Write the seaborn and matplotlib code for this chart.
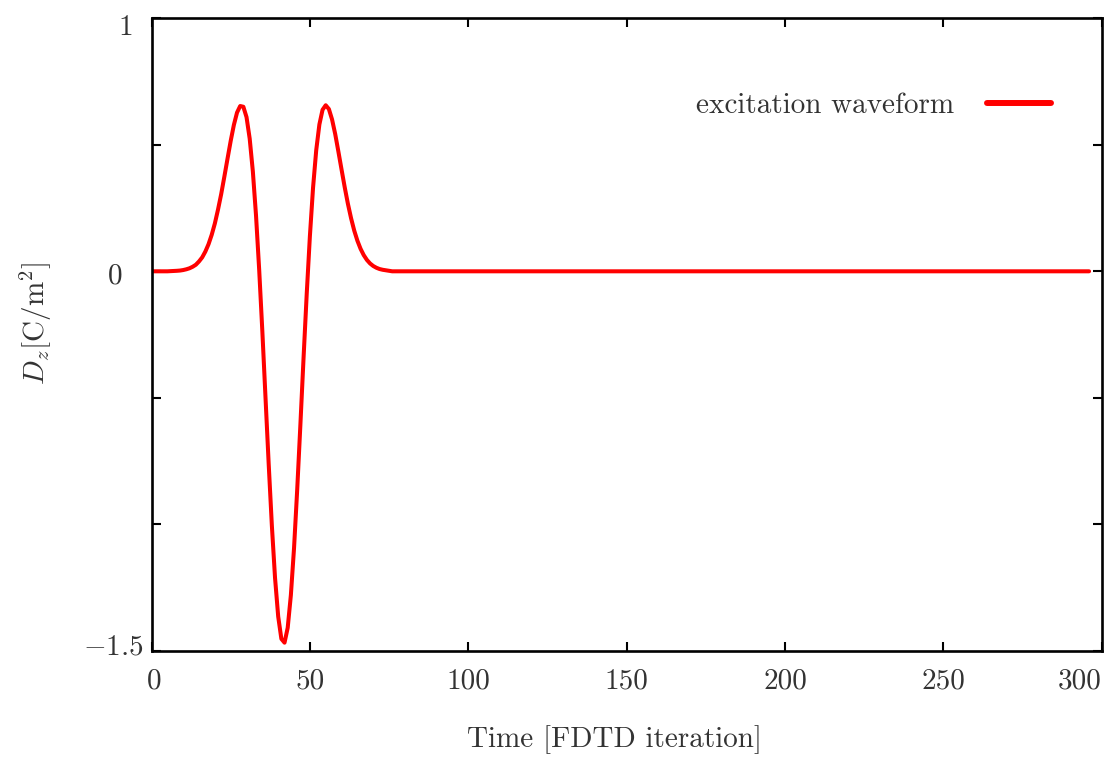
import matplotlib
matplotlib.use("Agg")
import matplotlib.pyplot as plt
import matplotlib.transforms as mtransforms
import seaborn as sns
import pandas as pd
from matplotlib.lines import Line2D

# Data (FDTD iteration vs D_z)
time = [0, 5, 8, 9, 10, 11, 12, 13, 14, 15, 16, 17, 18, 19, 20, 21, 22, 23, 24, 25,
        26, 27, 28, 29, 30, 31, 32, 33, 34, 35, 36, 37, 38, 39, 40, 41, 42, 43, 44, 45,
        46, 47, 48, 49, 50, 51, 52, 53, 54, 55, 56, 57, 58, 59, 60, 61, 62, 63, 64, 65,
        66, 67, 68, 69, 70, 71, 72, 73, 74, 75, 76, 80, 296]
dz = [0.0, 0.0, 0.002, 0.003, 0.005, 0.008, 0.012, 0.018, 0.026, 0.039, 0.055, 0.078,
      0.107, 0.144, 0.189, 0.244, 0.305, 0.374, 0.445, 0.515, 0.578, 0.627, 0.653, 0.650,
      0.609, 0.524, 0.394, 0.220, 0.005, -0.239, -0.501, -0.762, -1.005, -1.211, -1.364,
      -1.452, -1.467, -1.408, -1.279, -1.093, -0.862, -0.607, -0.343, -0.090, 0.138, 0.330,
      0.478, 0.580, 0.638, 0.656, 0.641, 0.600, 0.542, 0.473, 0.402, 0.332, 0.267, 0.210,
      0.161, 0.121, 0.089, 0.064, 0.045, 0.031, 0.021, 0.014, 0.009, 0.006, 0.004, 0.002,
      0.0, 0.0, 0.0]
series_name = "excitation waveform"
x_ticks = [0, 50, 100, 150, 200, 250, 300]
y_ticks = [-1.5, -1.0, -0.5, 0.0, 0.5, 1.0]
y_tick_labels = [r"$-1.5$", "", "", "0", "", "1"]

df = pd.DataFrame({"t": time, "dz": dz})

sns.set_style("white")
plt.rcParams["font.family"] = ["cmr10", "DejaVu Serif"]
plt.rcParams["mathtext.fontset"] = "cm"
plt.rcParams["axes.unicode_minus"] = False

FS = 21
txt = "#333333"
fig = plt.figure(figsize=(11.14, 7.57), dpi=100)
ax = fig.add_axes([0.136, 0.140, 0.853, 0.836])

sns.lineplot(data=df, x="t", y="dz", color="#ff0000", lw=2.9, ax=ax, legend=False)

ax.set_xlim(0, 300)
ax.set_ylim(-1.5, 1.0)
ax.set_xticks(x_ticks)
ax.set_xticklabels([str(v) for v in x_ticks])
ax.set_yticks(y_ticks)
ax.set_yticklabels(y_tick_labels)

for s in ax.spines.values():
    s.set_visible(True)
    s.set_color("black")
    s.set_linewidth(1.9)

ax.tick_params(axis="both", which="both", direction="in", length=6.5, width=1.5,
               top=True, right=True, bottom=True, left=True,
               labelsize=FS, labelcolor=txt, color="black")
ax.tick_params(axis="x", pad=12)
ax.tick_params(axis="y", pad=6)

# per-label nudges (pixels) to mimic the reference placement
def nudge(lbl, dx, dy):
    lbl.set_transform(lbl.get_transform() +
                      mtransforms.ScaledTranslation(dx / 100, dy / 100, fig.dpi_scale_trans))

ylabels = ax.get_yticklabels()
nudge(ylabels[0], 0, 7)     # -1.5
nudge(ylabels[3], -21, -2)  # 0
nudge(ylabels[5], -10, -7)  # 1
xlabels = ax.get_xticklabels()
xlabels[-1].set_ha("right")
nudge(xlabels[0], 3, 0)

ax.set_xlabel("Time [FDTD iteration]", fontsize=FS, color=txt)
ax.xaxis.set_label_coords(0.487, -0.117)
ax.set_ylabel(r"$D_z$[C/m$^2$]", fontsize=FS, color=txt)
ax.yaxis.set_label_coords(-0.103, 0.518)

handle = Line2D([], [], color="#ff0000", lw=4.3)
leg = ax.legend([handle], [series_name], loc="upper right", frameon=False,
                markerfirst=False, fontsize=FS, handlelength=2.2,
                bbox_to_anchor=(0.974, 0.924), handletextpad=1.1)
for t in leg.get_texts():
    t.set_color(txt)

fig.savefig("out.png", dpi=100)
